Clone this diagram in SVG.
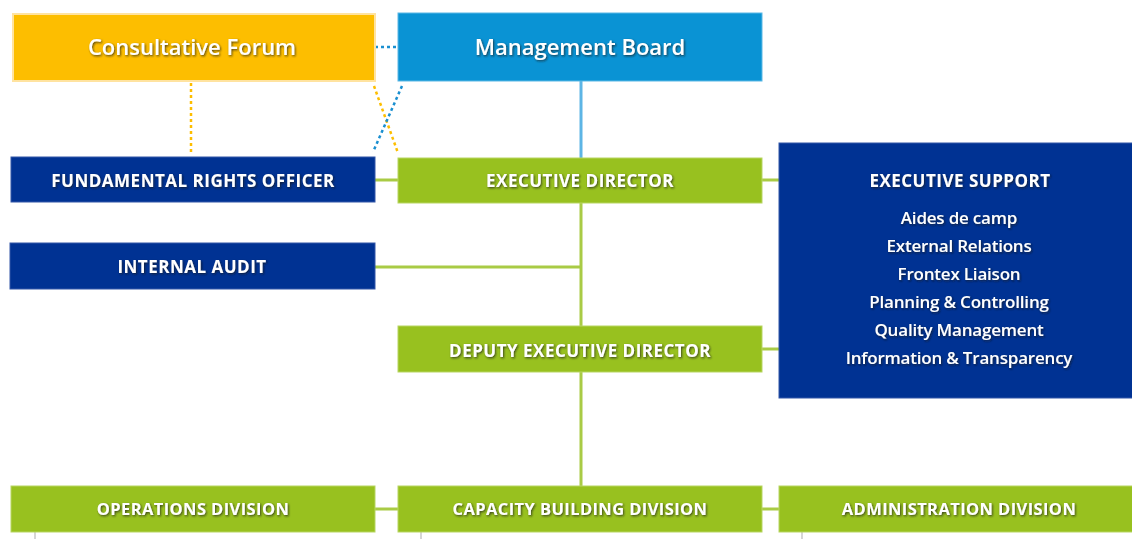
<svg xmlns="http://www.w3.org/2000/svg" width="1132" height="539" viewBox="0 0 1132 539">
  <defs>
    <filter id="txtShadow" x="-10%" y="-30%" width="120%" height="160%">
      <feDropShadow dx="1" dy="1.2" stdDeviation="0.8" flood-color="#1a1a1a" flood-opacity="0.75"/>
    </filter>
  </defs>
  <style>
    .bg { fill: #ffffff; }
    .orange { fill: #FDBE00; stroke: #FFE3A0; stroke-width: 2; }
    .sky { fill: #0A93D4; stroke: #5BB8E6; stroke-width: 1; }
    .navy { fill: #003293; stroke: #3357A8; stroke-width: 1; }
    .green { fill: #98C11F; stroke: #B7D562; stroke-width: 1; }
    text { fill: #ffffff; font-family: "Open Sans", "Noto Sans", "Liberation Sans", sans-serif; text-anchor: middle; filter: url(#txtShadow); }
    .big { font-size: 22px; font-weight: 600; }
    .cap { font-size: 17px; font-weight: 700; letter-spacing: 0.5px; }
    .div { font-size: 16.5px; font-weight: 700; letter-spacing: 0.4px; }
    .item { font-size: 17px; font-weight: 600; letter-spacing: -0.2px; }
    .solidG { stroke: #A9CB45; stroke-width: 3; fill: none; }
    .solidB { stroke: #5DB5E5; stroke-width: 3; fill: none; }
    .dotO { stroke: #FDBE00; stroke-width: 2.5; stroke-dasharray: 3 3; fill: none; }
    .dotB { stroke: #1A8FD0; stroke-width: 2.5; stroke-dasharray: 3 3; fill: none; }
    .stub { stroke: #C8C8C8; stroke-width: 1.5; fill: none; }
  </style>

  <rect class="bg" x="0" y="0" width="1132" height="539"/>

  <!-- connectors -->
  <g id="connectors">
    <line class="dotB" x1="375" y1="47" x2="398" y2="47"/>
    <line class="dotO" x1="191" y1="83" x2="191" y2="152"/>
    <line class="dotO" x1="374" y1="86" x2="398" y2="153"/>
    <line class="dotB" x1="402" y1="86" x2="373" y2="152"/>
    <line class="solidB" x1="581" y1="81" x2="581" y2="158"/>
    <line class="solidG" x1="375" y1="180" x2="398" y2="180"/>
    <line class="solidG" x1="762" y1="180" x2="779" y2="180"/>
    <line class="solidG" x1="581" y1="203" x2="581" y2="486"/>
    <line class="solidG" x1="375" y1="267" x2="581" y2="267"/>
    <line class="solidG" x1="762" y1="349" x2="779" y2="349"/>
    <line class="solidG" x1="375" y1="509" x2="398" y2="509"/>
    <line class="solidG" x1="762" y1="509" x2="779" y2="509"/>
    <line class="stub" x1="35" y1="532" x2="35" y2="539"/>
    <line class="stub" x1="421" y1="532" x2="421" y2="539"/>
    <line class="stub" x1="802" y1="532" x2="802" y2="539"/>
  </g>

  <g id="consultative-forum">
    <rect class="orange" x="13" y="14" width="362" height="67"/>
    <text class="big" x="192" y="55">Consultative Forum</text>
  </g>

  <g id="management-board">
    <rect class="sky" x="398" y="13" width="364" height="68"/>
    <text class="big" x="580" y="55">Management Board</text>
  </g>

  <g id="fundamental-rights-officer">
    <rect class="navy" x="11" y="157" width="364" height="45"/>
    <text class="cap" x="193" y="187">FUNDAMENTAL RIGHTS OFFICER</text>
  </g>

  <g id="executive-director">
    <rect class="green" x="398" y="158" width="364" height="45"/>
    <text class="cap" x="580" y="187">EXECUTIVE DIRECTOR</text>
  </g>

  <g id="executive-support">
    <rect class="navy" x="779" y="143" width="355" height="255"/>
    <text class="cap" x="960" y="187">EXECUTIVE SUPPORT</text>
    <text class="item" x="959" y="224">Aides de camp</text>
    <text class="item" x="959" y="252">External Relations</text>
    <text class="item" x="959" y="280">Frontex Liaison</text>
    <text class="item" x="959" y="308">Planning &amp; Controlling</text>
    <text class="item" x="959" y="336">Quality Management</text>
    <text class="item" x="959" y="364">Information &amp; Transparency</text>
  </g>

  <g id="internal-audit">
    <rect class="navy" x="10" y="243" width="365" height="46"/>
    <text class="cap" x="192" y="273">INTERNAL AUDIT</text>
  </g>

  <g id="deputy-executive-director">
    <rect class="green" x="398" y="326" width="364" height="46"/>
    <text class="cap" x="580" y="357">DEPUTY EXECUTIVE DIRECTOR</text>
  </g>

  <g id="operations-division">
    <rect class="green" x="11" y="486" width="364" height="46"/>
    <text class="div" x="193" y="515">OPERATIONS DIVISION</text>
  </g>

  <g id="capacity-building-division">
    <rect class="green" x="398" y="486" width="364" height="46"/>
    <text class="div" x="580" y="515">CAPACITY BUILDING DIVISION</text>
  </g>

  <g id="administration-division">
    <rect class="green" x="779" y="486" width="355" height="46"/>
    <text class="div" x="959" y="515">ADMINISTRATION DIVISION</text>
  </g>
</svg>
